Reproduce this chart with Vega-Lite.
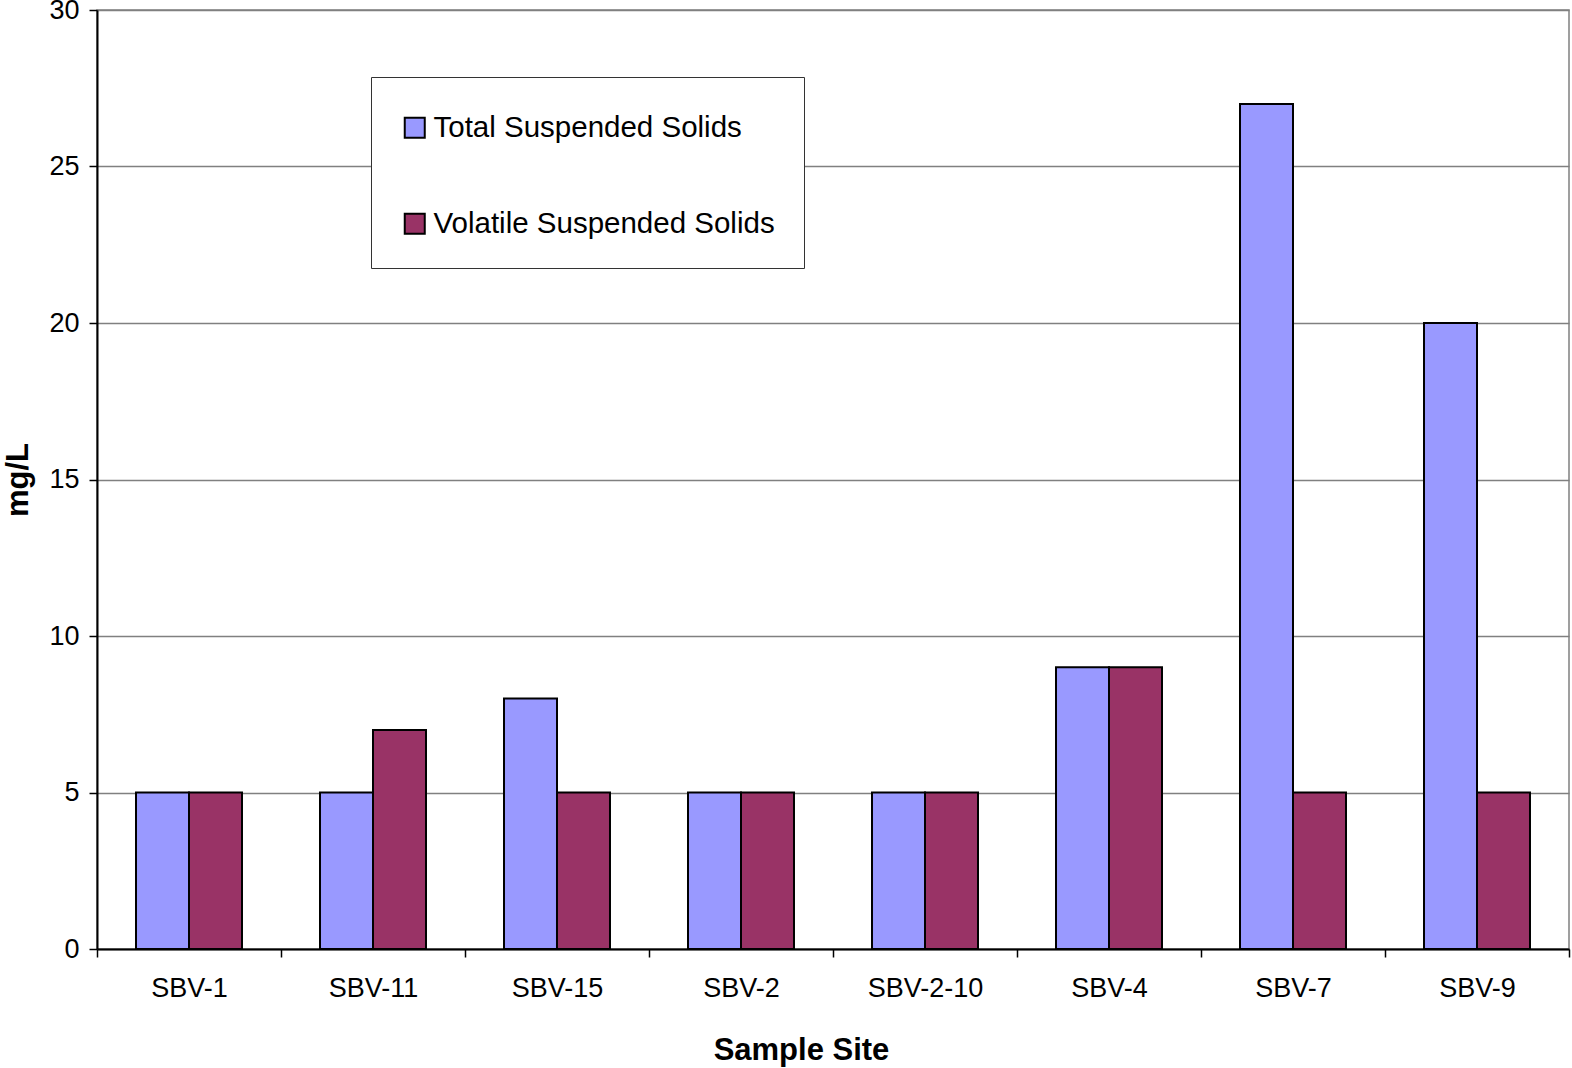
{
  "$schema": "https://vega.github.io/schema/vega-lite/v6.json",
  "autosize": {"type": "none"},
  "width": 1472,
  "height": 939,
  "padding": {"left": 97, "top": 10, "right": 3, "bottom": 119},
  "background": "white",
  "config": {
    "font": "Liberation Sans",
    "view": {"stroke": "#808080", "strokeWidth": 1.5},
    "axis": {"labelFont": "Liberation Sans", "titleFont": "Liberation Sans", "labelColor": "black", "titleColor": "black"}
  },
  "data": {
    "values": [
      {"site": "SBV-1", "measure": "Total Suspended Solids", "value": 5},
      {"site": "SBV-1", "measure": "Volatile Suspended Solids", "value": 5},
      {"site": "SBV-11", "measure": "Total Suspended Solids", "value": 5},
      {"site": "SBV-11", "measure": "Volatile Suspended Solids", "value": 7},
      {"site": "SBV-15", "measure": "Total Suspended Solids", "value": 8},
      {"site": "SBV-15", "measure": "Volatile Suspended Solids", "value": 5},
      {"site": "SBV-2", "measure": "Total Suspended Solids", "value": 5},
      {"site": "SBV-2", "measure": "Volatile Suspended Solids", "value": 5},
      {"site": "SBV-2-10", "measure": "Total Suspended Solids", "value": 5},
      {"site": "SBV-2-10", "measure": "Volatile Suspended Solids", "value": 5},
      {"site": "SBV-4", "measure": "Total Suspended Solids", "value": 9},
      {"site": "SBV-4", "measure": "Volatile Suspended Solids", "value": 9},
      {"site": "SBV-7", "measure": "Total Suspended Solids", "value": 27},
      {"site": "SBV-7", "measure": "Volatile Suspended Solids", "value": 5},
      {"site": "SBV-9", "measure": "Total Suspended Solids", "value": 20},
      {"site": "SBV-9", "measure": "Volatile Suspended Solids", "value": 5}
    ]
  },
  "mark": {"type": "bar", "stroke": "black", "strokeWidth": 2, "opacity": 1},
  "encoding": {
    "x": {
      "field": "site",
      "type": "nominal",
      "sort": ["SBV-1", "SBV-11", "SBV-15", "SBV-2", "SBV-2-10", "SBV-4", "SBV-7", "SBV-9"],
      "scale": {"paddingInner": 0, "paddingOuter": 0},
      "axis": {
        "title": "Sample Site",
        "titleFontSize": 31,
        "titleFontWeight": "bold",
        "titlePadding": 34,
        "titleX": 704,
        "labelFontSize": 27,
        "labelAngle": 0,
        "labelPadding": 18,
        "tickBand": "extent",
        "tickSize": 8,
        "tickColor": "black",
        "tickWidth": 1.5,
        "domainColor": "black",
        "domainWidth": 2,
        "grid": false
      }
    },
    "xOffset": {
      "field": "measure",
      "type": "nominal",
      "scale": {"paddingInner": 0, "paddingOuter": 0.736}
    },
    "y": {
      "field": "value",
      "type": "quantitative",
      "scale": {"domain": [0, 30], "nice": false},
      "axis": {
        "title": "mg/L",
        "titleFontSize": 31,
        "titleFontWeight": "bold",
        "titlePadding": 14,
        "labelFontSize": 27,
        "labelPadding": 10,
        "values": [0, 5, 10, 15, 20, 25, 30],
        "tickSize": 8,
        "tickColor": "black",
        "tickWidth": 1.5,
        "domainColor": "black",
        "domainWidth": 2,
        "grid": true,
        "gridColor": "#808080",
        "gridWidth": 1.5
      }
    },
    "fill": {
      "field": "measure",
      "type": "nominal",
      "scale": {
        "domain": ["Total Suspended Solids", "Volatile Suspended Solids"],
        "range": ["#9999FF", "#993366"]
      },
      "legend": {
        "title": " ",
        "titleFontSize": 2,
        "titlePadding": 5,
        "orient": "none",
        "legendX": 274,
        "legendY": 67,
        "direction": "vertical",
        "fillColor": "white",
        "strokeColor": "#333333",
        "padding": 29,
        "rowPadding": 65,
        "symbolType": "square",
        "symbolSize": 400,
        "symbolStrokeColor": "black",
        "symbolStrokeWidth": 2,
        "symbolOpacity": 1,
        "labelFont": "Liberation Sans",
        "labelFontSize": 29.5,
        "labelColor": "black",
        "labelOffset": 4,
        "labelLimit": 600
      }
    }
  }
}
